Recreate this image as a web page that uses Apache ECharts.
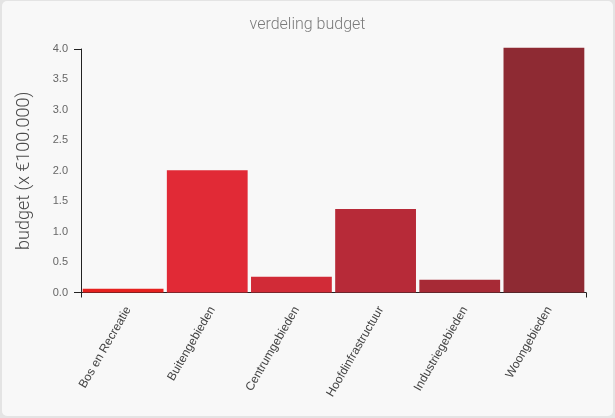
<!DOCTYPE html>
<html>
<head>
<meta charset="utf-8">
<script src="https://cdn.jsdelivr.net/npm/echarts@6/dist/echarts.min.js"></script>
<style>
  html, body { margin: 0; padding: 0; width: 615px; height: 418px; background: #e4e4e4; overflow: hidden; }
  #card { position: absolute; left: 2px; top: 1px; width: 611px; height: 415px; background: #f8f8f8; border-radius: 5px; }
  #chart { position: absolute; left: 0; top: 0; width: 615px; height: 418px; }
</style>
</head>
<body>
<div id="card"></div>
<div id="chart"></div>
<script>
// Budget per area type, in units of €100.000
const categories = ['Bos en Recreatie', 'Buitengebieden', 'Centrumgebieden', 'Hoofdinfrastructuur', 'Industriegebieden', 'Woongebieden'];
const budget = [0.06, 2.01, 0.26, 1.37, 0.21, 4.02];
const yTicks = ['0.0', '0.5', '1.0', '1.5', '2.0', '2.5', '3.0', '3.5', '4.0'];

// one shade per bar, running from bright red to dark wine red
const palette = ['#e6211f', '#e12a36', '#d12b37', '#b72a38', '#a72a36', '#8e2a33'];

const chart = echarts.init(document.getElementById('chart'), null, { renderer: 'canvas' });

const grid = { left: 81, right: 29, top: 49, bottom: 125.5 };

chart.setOption({
  backgroundColor: 'transparent',
  animation: false,
  title: {
    text: 'verdeling budget',
    left: 'center',
    top: 12,
    textStyle: { fontFamily: 'Roboto', fontWeight: 300, fontSize: 16, color: '#7a7a7a' }
  },
  grid: grid,
  xAxis: [
    {
      type: 'category',
      data: categories,
      axisLine: { show: true, lineStyle: { color: '#222', width: 1 } },
      axisTick: { show: false },
      axisLabel: {
        rotate: 60,
        margin: 12,
        verticalAlign: 'top',
        fontFamily: 'Liberation Sans',
        fontSize: 12,
        color: '#444'
      }
    },
    {
      // end ticks of the horizontal axis
      type: 'value',
      position: 'bottom',
      min: 0, max: 6, interval: 6,
      axisLine: { show: false },
      axisTick: { show: true, length: 5, lineStyle: { color: '#222' } },
      axisLabel: { show: false },
      splitLine: { show: false }
    }
  ],
  yAxis: [
    {
      type: 'value',
      min: 0, max: 4, interval: 0.5,
      name: 'budget (x €100.000)',
      nameLocation: 'middle',
      nameGap: 48,
      nameTextStyle: { fontFamily: 'Roboto', fontWeight: 300, fontSize: 18, color: '#4a4a4a' },
      axisLine: { show: true, lineStyle: { color: '#222', width: 1 } },
      axisTick: { show: false },
      splitLine: { show: false },
      axisLabel: {
        margin: 13,
        fontFamily: 'Liberation Sans',
        fontSize: 11,
        color: '#666',
        formatter: function (v) { return yTicks[Math.round(v / 0.5)] || v.toFixed(1); }
      }
    },
    {
      // end ticks of the vertical axis
      type: 'value',
      position: 'left',
      min: 0, max: 4, interval: 4,
      axisLine: { show: false },
      axisTick: { show: true, length: 7, lineStyle: { color: '#222' } },
      axisLabel: { show: false },
      splitLine: { show: false }
    }
  ],
  series: [{
    type: 'bar',
    xAxisIndex: 0,
    yAxisIndex: 0,
    clip: false,
    barCategoryGap: '4%',
    data: budget.map(function (v, i) {
      return { value: v, itemStyle: { color: palette[i] } };
    })
  }]
});
</script>
</body>
</html>
